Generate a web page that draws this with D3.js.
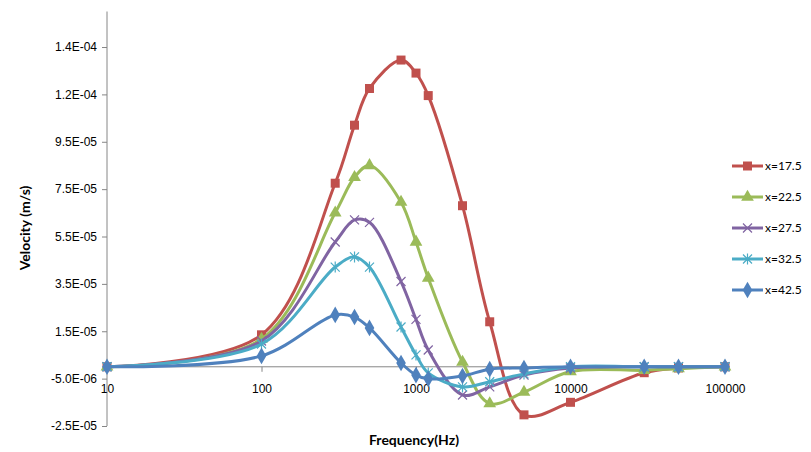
<!DOCTYPE html>
<meta charset="utf-8">
<style>
  body { margin: 0; background: #fff; }
  svg { display: block; font-family: Lato, "Open Sans", sans-serif; }
  .axis path, .axis line { stroke: #868686; stroke-width: 1; }
  .axis text { fill: #000; font-size: 12px; }
</style>
<body>
<svg width="811" height="452"></svg>
</body>
<script src="https://cdnjs.cloudflare.com/ajax/libs/d3/7.8.5/d3.min.js"></script>
<script>
  var freqs = [10, 100, 300, 400, 500, 800, 1000, 1200, 2000, 3000, 5000, 10000, 30000, 50000, 100000];

  var x175 = [0, 13.5e-6, 77.5e-6, 102e-6, 117.5e-6, 129.5e-6, 124e-6, 114.5e-6, 68e-6, 19e-6, -20.3e-6, -15e-6, -2.5e-6, -0.5e-6, 0];
  var x225 = [0, 11.7e-6, 65e-6, 80e-6, 85e-6, 69.5e-6, 52.7e-6, 37.5e-6, 2e-6, -15.5e-6, -10.7e-6, -2e-6, -1.5e-6, -0.8e-6, 0];
  var x275 = [0, 10.9e-6, 52.7e-6, 62e-6, 61e-6, 36e-6, 20e-6, 7.1e-6, -11.9e-6, -8.5e-6, -3.5e-6, -0.5e-6, 0, 0, 0];
  var x325 = [0, 9.6e-6, 42.1e-6, 46.4e-6, 42.1e-6, 16.8e-6, 5e-6, -2.6e-6, -8.5e-6, -6.3e-6, -3e-6, 0, 0, 0, 0];
  var x425 = [0, 4.6e-6, 21.9e-6, 21e-6, 16.4e-6, 1.6e-6, -3.5e-6, -5.1e-6, -3.9e-6, -1e-6, -0.5e-6, 0, 0, 0, 0];

  var seriesNames = ["x=17.5", "x=22.5", "x=27.5", "x=32.5", "x=42.5"];
  var seriesValues = [x175, x225, x275, x325, x425];
  var colors = ["#C0504D", "#9BBB59", "#8064A2", "#4BACC6", "#4F81BD"];
  var markers = ["square", "triangle", "x", "star", "diamond"];

  var yTicks = [-2.5e-5, -5e-6, 1.5e-5, 3.5e-5, 5.5e-5, 7.5e-5, 9.5e-5, 1.15e-4, 1.35e-4];
  var yTickLabels = ["-2.5E-05", "-5.0E-06", "1.5E-05", "3.5E-05", "5.5E-05", "7.5E-05", "9.5E-05", "1.2E-04", "1.4E-04"];
  var xTicks = [10, 100, 1000, 10000, 100000];

  var svg = d3.select("svg");

  var x = d3.scaleLog().domain([10, 100000]).range([107, 725]);
  var y = d3.scaleLinear().domain([-2.5e-5, 1.5e-4]).range([426, 11.5]);

  // y axis
  var yAxis = svg.append("g")
    .attr("class", "axis")
    .attr("transform", "translate(107,0)")
    .call(d3.axisLeft(y).tickValues(yTicks).tickSize(5).tickPadding(5)
      .tickFormat(function(d, i) { return yTickLabels[i]; }));
  yAxis.select(".domain").attr("d", "M0," + y.range()[0] + "V" + y.range()[1]);

  // x axis crosses at zero
  var xAxis = svg.append("g")
    .attr("class", "axis")
    .attr("transform", "translate(0," + y(0) + ")")
    .call(d3.axisBottom(x).tickValues(xTicks).tickSize(5).tickPadding(14)
      .tickFormat(d3.format("d")));
  xAxis.select(".domain").attr("d", "M" + x.range()[0] + ",0H" + x.range()[1]);
  xAxis.selectAll("text").attr("dy", "0.6em");

  // axis titles
  svg.append("text")
    .attr("x", 414).attr("y", 445)
    .attr("text-anchor", "middle")
    .style("font-weight", "bold").style("font-size", "14px")
    .text("Frequency(Hz)");

  svg.append("text")
    .attr("transform", "translate(30,228) rotate(-90)")
    .attr("text-anchor", "middle")
    .style("font-weight", "bold").style("font-size", "14px")
    .text("Velocity (m/s)");

  function markerPath(kind) {
    if (kind == "square") return d3.symbol().type(d3.symbolSquare).size(81)();
    if (kind == "triangle") return d3.symbol().type(d3.symbolTriangle).size(70)();
    if (kind == "diamond") return d3.symbol().type(d3.symbolDiamond).size(80)();
    if (kind == "x") return "M-4.5,-4.5L4.5,4.5M-4.5,4.5L4.5,-4.5";
    if (kind == "star") return "M-4.5,-4.5L4.5,4.5M-4.5,4.5L4.5,-4.5M0,-5.5L0,5.5";
  }

  var line = d3.line()
    .x(function(d) { return x(d[0]); })
    .y(function(d) { return y(d[1]); })
    .curve(d3.curveCatmullRom.alpha(0.5));

  seriesValues.forEach(function(vals, s) {
    var pts = freqs.map(function(f, i) { return [f, vals[i]]; });
    var g = svg.append("g");
    g.append("path")
      .datum(pts)
      .attr("d", line)
      .attr("fill", "none")
      .attr("stroke", colors[s])
      .attr("stroke-width", 3);
    var open = markers[s] == "x" || markers[s] == "star";
    g.selectAll("path.m")
      .data(pts)
      .enter().append("path")
      .attr("class", "m")
      .attr("transform", function(d) { return "translate(" + x(d[0]) + "," + y(d[1]) + ")"; })
      .attr("d", markerPath(markers[s]))
      .attr("fill", open ? "none" : colors[s])
      .attr("stroke", colors[s])
      .attr("stroke-width", open ? 1.2 : 0);
  });

  // legend
  var legend = svg.append("g");
  seriesNames.forEach(function(name, s) {
    var ly = 166 + s * 31;
    legend.append("line")
      .attr("x1", 732).attr("x2", 763).attr("y1", ly).attr("y2", ly)
      .attr("stroke", colors[s]).attr("stroke-width", 3);
    var open = markers[s] == "x" || markers[s] == "star";
    legend.append("path")
      .attr("transform", "translate(747.5," + ly + ")")
      .attr("d", markerPath(markers[s]))
      .attr("fill", open ? "none" : colors[s])
      .attr("stroke", colors[s])
      .attr("stroke-width", open ? 1.2 : 0);
    legend.append("text")
      .attr("x", 765).attr("y", ly)
      .attr("dy", "0.35em")
      .style("font-size", "12px")
      .text(name);
  });
</script>
